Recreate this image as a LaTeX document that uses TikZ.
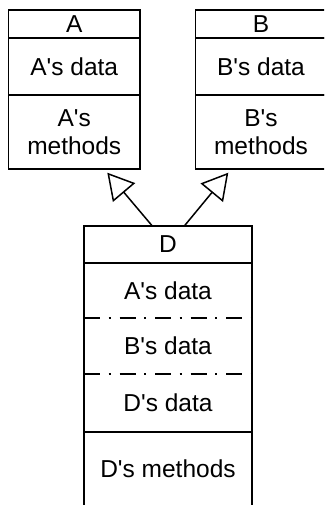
\documentclass[tikz,border=0pt]{standalone}
\usepackage{fontspec}
\newfontfamily\helv{Liberation Sans}
\usetikzlibrary{arrows.meta,calc}
\begin{document}
\begin{tikzpicture}[x=1pt, y=-1pt, line width=1.5pt,
  labelfont/.style={font=\helv\fontsize{24.5}{27.7}\selectfont},
  cell/.style={draw, rectangle, inner sep=0pt, outer sep=0pt,
    minimum width=131.5pt, anchor=north west, align=center, labelfont},
  dcell/.style={rectangle, inner sep=0pt, outer sep=0pt,
    minimum width=168pt, anchor=north west, align=center, labelfont},
  sepline/.style={dash pattern=on 16pt off 8.5pt on 2pt off 9pt},
  inherits/.style={-{Triangle[open, length=26pt, width=29pt]}}]

\useasboundingbox (0,0) rectangle (324,505);
\clip (0,0) rectangle (324,505);

% class A
\node[cell, minimum height=28pt] (Ahead) at (8.5,10) {A};
\node[cell, minimum height=57pt] (Adata) at (Ahead.south west) {A's data};
\node[cell, minimum height=74pt] (Ameth) at (Adata.south west) {A's\\methods};

% class B (its right side lies just past the picture's edge)
\node[cell, minimum height=28pt, minimum width=131pt] (Bhead) at (195.5,10) {B};
\node[cell, minimum height=57pt, minimum width=131pt] (Bdata) at (Bhead.south west) {B's data};
\node[cell, minimum height=74pt, minimum width=131pt] (Bmeth) at (Bdata.south west) {B's\\methods};

% class D, derived from A and B
\node[dcell, minimum height=37pt] (Dhead)  at (84,226) {D};
\node[dcell, minimum height=55pt] (DdataA) at (Dhead.south west) {A's data};
\node[dcell, minimum height=56pt] (DdataB) at (DdataA.south west) {B's data};
\node[dcell, minimum height=58pt] (DdataD) at (DdataB.south west) {D's data};
\node[dcell, minimum height=74pt] (Dmeth)  at (DdataD.south west) {D's methods};

\draw (Dmeth.south west) |- (Dhead.north east) -- (Dmeth.south east);
\draw (Dhead.south west) -- (Dhead.south east);
\draw[sepline] (DdataA.south west) -- (DdataA.south east);
\draw[sepline] (DdataB.south west) -- (DdataB.south east);
\draw (DdataD.south west) -- (DdataD.south east);

% inheritance arrows
\draw[inherits] ($(Dhead.north)+(-15.7,0)$) -- ($(Ameth.south east)+(-32.7,3.7)$);
\draw[inherits] ($(Dhead.north)+(16.3,0)$) -- ($(Bmeth.south west)+(32.8,3.7)$);
\end{tikzpicture}
\end{document}
